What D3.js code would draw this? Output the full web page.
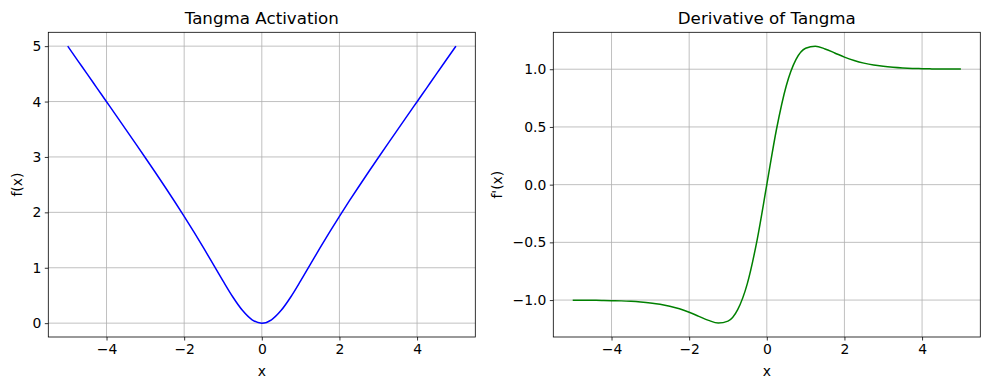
<!DOCTYPE html>
<html>
<head>
<meta charset="utf-8">
<script src="https://cdn.jsdelivr.net/npm/d3@7"></script>
<style>
  body { margin: 0; background: #fff; }
  svg { font-family: "DejaVu Sans", sans-serif; }
</style>
</head>
<body>
<svg id="chart" width="990" height="390"></svg>
<script>
// sample positions and values
const xs = [-5, -4.75, -4.5, -4.25, -4, -3.75, -3.5, -3.25, -3, -2.75, -2.5, -2.25, -2, -1.75, -1.5, -1.25, -1, -0.75, -0.5, -0.25,
  0, 0.25, 0.5, 0.75, 1, 1.25, 1.5, 1.75, 2, 2.25, 2.5, 2.75, 3, 3.25, 3.5, 3.75, 4, 4.25, 4.5, 4.75, 5];

const tangma = [5.00, 4.749, 4.499, 4.248, 3.997, 3.746, 3.494, 3.240, 2.985, 2.728, 2.467, 2.201, 1.928, 1.647, 1.358, 1.060, 0.762, 0.476, 0.231, 0.061,
  0, 0.061, 0.231, 0.476, 0.762, 1.060, 1.358, 1.647, 1.928, 2.201, 2.467, 2.728, 2.985, 3.240, 3.494, 3.746, 3.997, 4.248, 4.499, 4.749, 5.00];

const tangmaDeriv = [-1.001, -1.001, -1.002, -1.003, -1.005, -1.007, -1.011, -1.017, -1.025, -1.036, -1.053, -1.076, -1.105, -1.141, -1.176, -1.199, -1.182, -1.083, -0.855, -0.480,
  0, 0.480, 0.855, 1.083, 1.182, 1.199, 1.176, 1.141, 1.105, 1.076, 1.053, 1.036, 1.025, 1.017, 1.011, 1.007, 1.005, 1.003, 1.002, 1.001, 1.001];

const xTicks = [-4, -2, 0, 2, 4];
const leftYTicks = [0, 1, 2, 3, 4, 5];
const rightYTicks = [-1.0, -0.5, 0.0, 0.5, 1.0];

const svg = d3.select("#chart");
const plotTop = 32.3, plotBottom = 337;
const fmtMinus = s => s.replace("-", "\u2212");

function drawPanel(opts) {
  const x = d3.scaleLinear().domain([-5.5, 5.5]).range([opts.left, opts.right]);
  const y = d3.scaleLinear().domain(opts.yDomain).range([plotBottom, plotTop]);
  const g = svg.append("g");

  // grid
  g.selectAll(".vgrid").data(xTicks).enter().append("line")
    .attr("x1", d => x(d)).attr("x2", d => x(d))
    .attr("y1", plotTop).attr("y2", plotBottom)
    .attr("stroke", "#b0b0b0").attr("stroke-width", 0.8);
  g.selectAll(".hgrid").data(opts.yTicks).enter().append("line")
    .attr("x1", opts.left).attr("x2", opts.right)
    .attr("y1", d => y(d)).attr("y2", d => y(d))
    .attr("stroke", "#b0b0b0").attr("stroke-width", 0.8);

  // curve
  const line = d3.line()
    .x((d, i) => x(xs[i]))
    .y(d => y(d))
    .curve(d3.curveMonotoneX);
  g.append("path")
    .datum(opts.values)
    .attr("d", line)
    .attr("fill", "none")
    .attr("stroke", opts.color)
    .attr("stroke-width", 1.5);

  // axes
  const xAxis = g.append("g")
    .attr("transform", `translate(0,${plotBottom})`)
    .call(d3.axisBottom(x).tickValues(xTicks).tickSize(3.5).tickPadding(3.5)
      .tickFormat(d => fmtMinus(d3.format("d")(d))));
  const yAxis = g.append("g")
    .attr("transform", `translate(${opts.left},0)`)
    .call(d3.axisLeft(y).tickValues(opts.yTicks).tickSize(3.5).tickPadding(3.5)
      .tickFormat(d => fmtMinus(opts.fmt(d))));
  [xAxis, yAxis].forEach(a => {
    a.select(".domain").remove();
    a.selectAll("line").attr("stroke", "#000").attr("stroke-width", 0.8);
    a.selectAll("text").attr("fill", "#000").style("font-size", "13.9px")
      .style("font-family", "DejaVu Sans, sans-serif");
  });

  // frame
  g.append("rect")
    .attr("x", opts.left).attr("y", plotTop)
    .attr("width", opts.right - opts.left).attr("height", plotBottom - plotTop)
    .attr("fill", "none").attr("stroke", "#000").attr("stroke-width", 0.8);

  g.append("text")
    .attr("x", (opts.left + opts.right) / 2).attr("y", 24)
    .attr("text-anchor", "middle").style("font-size", "16.7px")
    .text(opts.title);
  g.append("text")
    .attr("x", (opts.left + opts.right) / 2).attr("y", 376)
    .attr("text-anchor", "middle").style("font-size", "13.9px")
    .text("x");
  g.append("text")
    .attr("transform", `translate(${opts.yLabelX},${(plotTop + plotBottom) / 2}) rotate(-90)`)
    .attr("text-anchor", "middle").style("font-size", "13.9px")
    .text(opts.yLabel);
}

drawPanel({
  left: 48.3, right: 475.3, yDomain: [-0.25, 5.25], yTicks: leftYTicks,
  fmt: d3.format("d"), values: tangma, color: "blue",
  title: "Tangma Activation", yLabel: "f(x)", yLabelX: 21.5
});

drawPanel({
  left: 553.3, right: 980.3, yDomain: [-1.32, 1.32], yTicks: rightYTicks,
  fmt: d3.format(".1f"), values: tangmaDeriv, color: "green",
  title: "Derivative of Tangma", yLabel: "f'(x)", yLabelX: 501.5
});
</script>
</body>
</html>
